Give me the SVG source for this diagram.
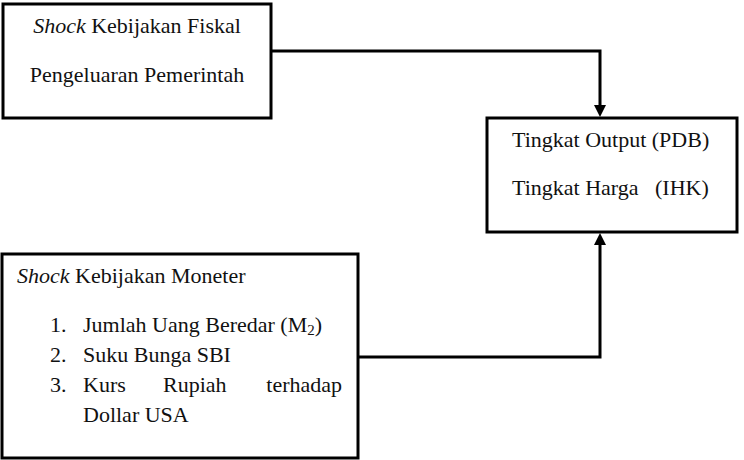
<svg xmlns="http://www.w3.org/2000/svg" width="744" height="460" viewBox="0 0 744 460">
<defs>
<style>
.box{fill:#fff;stroke:#000;stroke-width:3}
.t{font-family:'Liberation Serif','DejaVu Serif',serif;font-size:22px;fill:#111}
.line{fill:none;stroke:#000;stroke-width:3}
</style>
</defs>
<g id="connectors">
<path class="line" d="M271,51 H600 V108"/>
<polygon points="594,105 606,105 600,117" fill="#000"/>
<path class="line" d="M358,357 H600 V242"/>
<polygon points="594,245 606,245 600,233" fill="#000"/>
</g>
<g id="fiskal">
<rect class="box" x="3" y="4" width="268" height="114"/>
<text class="t" x="137" y="33" text-anchor="middle"><tspan font-style="italic">Shock</tspan> Kebijakan Fiskal</text>
<text class="t" x="137" y="82" text-anchor="middle">Pengeluaran Pemerintah</text>
</g>
<g id="output">
<rect class="box" x="487" y="118" width="250" height="114"/>
<text class="t" x="512" y="147">Tingkat Output (PDB)</text>
<text class="t" x="512" y="195" xml:space="preserve">Tingkat Harga   (IHK)</text>
</g>
<g id="moneter">
<rect class="box" x="2" y="254" width="356" height="204"/>
<text class="t" x="17" y="283"><tspan font-style="italic">Shock</tspan> Kebijakan Moneter</text>
<text class="t" x="50" y="332">1.</text>
<text class="t" x="83" y="332">Jumlah Uang Beredar (M<tspan font-size="15" dy="3">2</tspan><tspan dy="-3">)</tspan></text>
<text class="t" x="50" y="362">2.</text>
<text class="t" x="83" y="362">Suku Bunga SBI</text>
<text class="t" x="50" y="392">3.</text>
<text class="t" x="83" y="392">Kurs</text>
<text class="t" x="163" y="392">Rupiah</text>
<text class="t" x="342" y="392" text-anchor="end">terhadap</text>
<text class="t" x="83" y="422">Dollar USA</text>
</g>
</svg>
